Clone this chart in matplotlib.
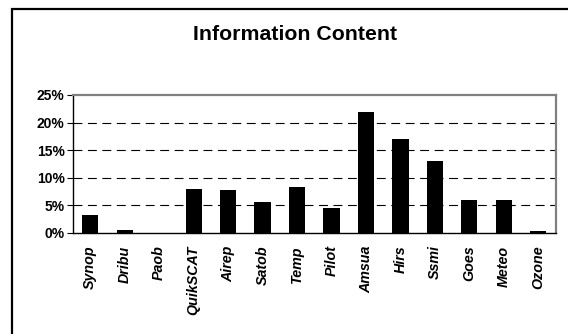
import matplotlib.pyplot as plt
from matplotlib.patches import Rectangle
from matplotlib.ticker import FuncFormatter

# share of information content per observation type (%)
categories = ["Synop", "Dribu", "Paob", "QuikSCAT", "Airep", "Satob", "Temp",
              "Pilot", "Amsua", "Hirs", "Ssmi", "Goes", "Meteo", "Ozone"]
values = [3.3, 0.5, 0.0, 7.9, 7.8, 5.7, 8.4, 4.6, 22.0, 17.0, 13.0, 6.0, 6.0, 0.3]
yticks = [0, 5, 10, 15, 20, 25]

plt.rcParams["font.family"] = ["Liberation Sans", "DejaVu Sans"]

fig = plt.figure(figsize=(5.68, 3.34), dpi=100)
ax = fig.add_axes([0.1285, 0.3024, 0.8495, 0.4132])

# outer chart frame, runs off the right and bottom edges
fig.patches.append(Rectangle((12 / 568, -1.0), 2.0, 2.0 - 9 / 334,
                             transform=fig.transFigure, fill=False,
                             edgecolor="black", linewidth=1.6, zorder=0))

x = range(len(categories))
ax.bar(x, values, width=0.47, color="black", zorder=3)

ax.set_xlim(-0.5, len(categories) - 0.5)
ax.set_ylim(0, 25)
ax.set_yticks(yticks)
ax.yaxis.set_major_formatter(FuncFormatter(lambda v, p: "%d%%" % v))
for t in yticks[1:-1]:
    ax.axhline(t, color="black", linestyle=(0, (8, 5)), linewidth=0.8, zorder=1)

ax.set_xticks(list(x))
ax.set_xticklabels(categories, rotation=90, fontsize=10.3,
                   fontweight="bold", fontstyle="italic")
ax.tick_params(axis="x", length=0, pad=9)
ax.tick_params(axis="y", length=4, width=0.8, labelsize=10, pad=2)
for lab in ax.get_yticklabels():
    lab.set_fontweight("bold")

for side in ["top", "right"]:
    ax.spines[side].set_color("#808080")
    ax.spines[side].set_linewidth(1.6)
for side in ["left", "bottom"]:
    ax.spines[side].set_color("black")
    ax.spines[side].set_linewidth(1.0)

fig.text(0.52, 1 - 35 / 334, "Information Content", ha="center", va="center",
         fontsize=15.3, fontweight="bold")

plt.savefig("out.png", dpi=100)
